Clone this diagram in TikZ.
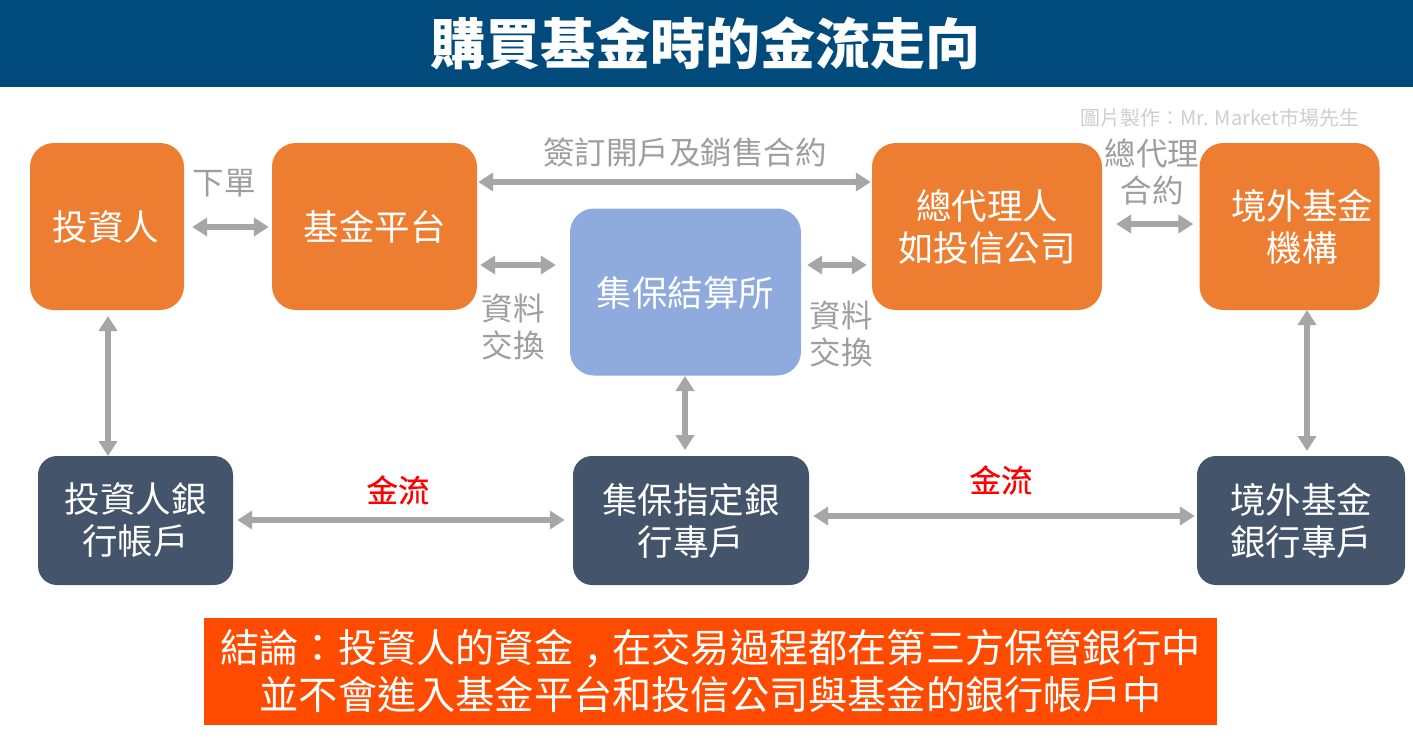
\documentclass[tikz,border=0pt]{standalone}
\usepackage{fontspec}
\setmainfont{Noto Sans CJK TC}
\newfontfamily\redfont[FakeBold=0.6]{Noto Sans CJK TC}
\usetikzlibrary{arrows.meta}
\definecolor{hdr}{HTML}{004A7C}
\definecolor{org}{HTML}{ED7D31}
\definecolor{blu}{HTML}{8FAADC}
\definecolor{nav}{HTML}{44546A}
\definecolor{gry}{HTML}{A6A6A6}
\definecolor{ccl}{HTML}{FF4B00}
\tikzset{
 x=1pt,y=-1pt,
 base/.style={align=center,inner sep=0,font=\fontsize{35.5}{42}\selectfont,text=white,rounded corners=24pt},
 oneline/.style={execute at begin node={\rule{0pt}{31pt}}},
 twoline/.style={execute at begin node={\rule{0pt}{36pt}}},
 orangebox/.style={base,fill=org},
 bluebox/.style={base,fill=blu},
 navybox/.style={base,fill=nav,rounded corners=19pt},
 conn/.style={draw=gry,line width=6.5pt,{Triangle[length=15pt,width=18pt]}-{Triangle[length=15pt,width=18pt]}},
 vconn/.style={conn,line width=5.5pt},
 graylabel/.style={align=center,inner sep=0,text=gry!95!black,font=\fontsize{31.5}{37}\selectfont},
 redlabel/.style={inner sep=0,text=red,font=\fontsize{31.5}{36}\redfont},
}
\begin{document}
\begin{tikzpicture}
\useasboundingbox (0,0) rectangle (1413,740);
\fill[white] (0,0) rectangle (1413,740);
\node[fill=hdr,minimum width=1413pt,minimum height=87pt,inner sep=0,anchor=north west] (hdr) at (0,0) {};
\node[text=white,inner sep=0,font=\fontsize{55}{60}\selectfont\bfseries] (ttl) at (705,43) {購買基金時的金流走向};
\node[inner sep=0,text=gry!55,font=\fontsize{20}{24}\selectfont] (cr) at (1220,118) {圖片製作：Mr. Market市場先生};
\node[orangebox,oneline,minimum width=154pt,minimum height=167pt] (inv) at (107,226.5) {\hspace*{-2pt}投資人};
\node[orangebox,oneline,minimum width=205pt,minimum height=167pt] (plat) at (374.5,226.5) {基金平台};
\node[orangebox,twoline,minimum width=230pt,minimum height=167pt] (agent) at (987,226.5) {總代理人\\如投信公司};
\node[orangebox,twoline,minimum width=180pt,minimum height=167pt] (off) at (1289.5,226.5) {\hspace*{25pt}境外基金\\\hspace*{25pt}機構};
\node[bluebox,oneline,minimum width=231pt,minimum height=167pt] (tdcc) at (685.5,292) {集保結算所};
\node[navybox,twoline,minimum width=195pt,minimum height=129pt] (ibank) at (135.5,520.5) {投資人銀\\行帳戶};
\node[navybox,twoline,minimum width=236pt,minimum height=129pt] (tbank) at (691,520.5) {集保指定銀\\行專戶};
\node[navybox,twoline,minimum width=208pt,minimum height=129pt] (obank) at (1301,520.5) {境外基金\\銀行專戶};
\node[graylabel] (l1) at (224,183) {下單};
\node[graylabel] (l2) at (685,153) {簽訂開戶及銷售合約};
\node[graylabel] (l3) at (1152,172) {總代理\\合約};
\node[graylabel] (l4) at (513,327) {資料\\交換};
\node[graylabel] (l5) at (841,334) {資料\\交換};
\node[redlabel] (r1) at (398,490) {金流};
\node[redlabel] (r2) at (1001,480) {金流};
\node[fill=ccl,minimum width=1013pt,minimum height=107pt,inner sep=0,text=white,align=center,font=\fontsize{39.2}{44}\selectfont] (con) at (710.5,671) {結論：投資人的資金\raisebox{-13pt}{，}在交易過程都在第三方保管銀行中\\並不會進入基金平台和投信公司與基金的銀行帳戶中};
\draw[conn] ([xshift=8pt]inv.east |- 0,227) -- ([xshift=-3pt]plat.west |- 0,227);
\draw[conn] ([xshift=1pt]plat.east |- 0,182) -- ([xshift=-1pt]agent.west |- 0,182);
\draw[conn] ([xshift=3pt]plat.east |- 0,265) -- ([xshift=-14pt]tdcc.west |- 0,265);
\draw[conn] ([xshift=6pt]tdcc.east |- 0,265) -- ([xshift=-5pt]agent.west |- 0,265);
\draw[conn] ([xshift=14pt]agent.east |- 0,224) -- ([xshift=-6pt]off.west |- 0,224);
\coordinate (vaTop) at (108,316);
\coordinate (vaBot) at (108,456);
\coordinate (vbTop) at (1307,310);
\coordinate (vbBot) at (1307,451);
\coordinate (vcTop) at (685,376);
\coordinate (vcBot) at (685,450);
\draw[vconn] (vaTop) -- (vaBot);
\draw[vconn] (vbTop) -- (vbBot);
\draw[vconn] (vcTop) -- (vcBot);
\draw[conn] ([xshift=4pt]ibank.east |- 0,520) -- ([xshift=-8pt]tbank.west |- 0,520);
\draw[conn] ([xshift=4pt]tbank.east |- 0,516) -- ([xshift=-2pt]obank.west |- 0,516);
\end{tikzpicture}
\end{document}
